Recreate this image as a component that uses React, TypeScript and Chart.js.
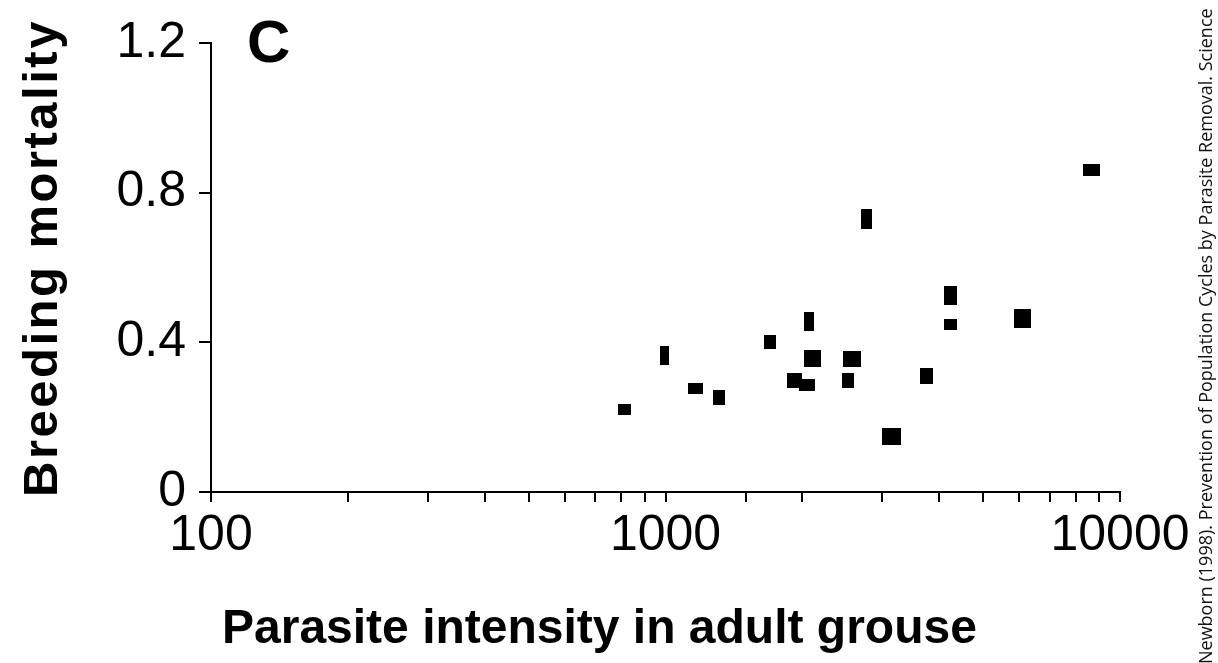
import React, { useEffect, useRef } from 'react';
import { Chart, registerables } from 'chart.js';

Chart.register(...registerables);

// ---- data ----
const intensity = [814, 997, 1167, 1311, 1698, 1927, 2048, 2069, 2111, 2520, 2572, 2775, 3150, 3760, 4227, 4227, 6087, 8675];
const mortality = [0.221, 0.364, 0.277, 0.253, 0.401, 0.298, 0.285, 0.457, 0.357, 0.298, 0.355, 0.729, 0.147, 0.309, 0.524, 0.447, 0.463, 0.86];

// marker shapes (style only): width / height of each filled rectangle in px
const markerW = [13, 9, 15, 12, 12, 15, 16, 10, 17, 12, 18, 11, 19, 13, 13, 13, 17, 17];
const markerH = [11, 19, 11, 15, 14, 15, 12, 19, 17, 15, 16, 20, 17, 16, 19, 11, 19, 12];

const xLabelledTicks = [100, 1000, 10000];
const yTickValues = [0, 0.4, 0.8, 1.2];

const xTitle = 'Parasite intensity in adult grouse';
const yTitle = 'Breeding mortality';
const panelLabel = 'C';
const citation = 'Newborn (1998). Prevention of Population Cycles by Parasite Removal. Science';

const FONT = '"Liberation Sans", Arial, Helvetica, sans-serif';

function makeMarker(w: number, h: number): HTMLCanvasElement {
  const c = document.createElement('canvas');
  c.width = w;
  c.height = h;
  const g = c.getContext('2d')!;
  g.fillStyle = '#000';
  g.fillRect(0, 0, w, h);
  return c;
}

const textPlugin = {
  id: 'textPlugin',
  afterDraw(chart: any) {
    const ctx = chart.ctx as CanvasRenderingContext2D;
    ctx.save();
    ctx.fillStyle = '#000';
    ctx.textBaseline = 'alphabetic';
    ctx.textAlign = 'left';

    // x title
    ctx.font = `bold 48px ${FONT}`;
    ctx.fillText(xTitle, 222, 643);

    // y title
    ctx.save();
    ctx.translate(57, 497);
    ctx.rotate(-Math.PI / 2);
    ctx.font = `bold 49px ${FONT}`;
    (ctx as any).letterSpacing = '2.5px';
    ctx.fillText(yTitle, 0, 0);
    ctx.restore();

    // panel label
    ctx.font = `bold 60px ${FONT}`;
    ctx.fillText(panelLabel, 247, 62);

    // citation
    ctx.save();
    ctx.translate(1212, 664);
    ctx.rotate(-Math.PI / 2);
    ctx.font = `18px "Open Sans", sans-serif`;
    ctx.fillStyle = '#111';
    ctx.fillText(citation, 0, 0);
    ctx.restore();

    ctx.restore();
  },
};

export default function App() {
  const ref = useRef<HTMLCanvasElement | null>(null);

  useEffect(() => {
    if (!ref.current) return;
    const points = intensity.map((x, i) => ({ x, y: mortality[i] }));
    const styles = markerW.map((w, i) => makeMarker(w, markerH[i]));

    const chart = new Chart(ref.current, {
      type: 'scatter',
      data: {
        datasets: [
          {
            data: points,
            pointStyle: styles as any,
            pointRadius: 9,
            backgroundColor: '#000',
            borderColor: '#000',
          },
        ],
      },
      options: {
        responsive: false,
        animation: false,
        events: [],
        layout: { padding: { top: 38, right: 98, left: 0, bottom: 0 } },
        plugins: {
          legend: { display: false },
          tooltip: { enabled: false },
          title: { display: false },
        },
        scales: {
          x: {
            type: 'logarithmic',
            min: 100,
            max: 10000,
            afterFit(scale: any) {
              scale.height = 171;
            },
            border: { display: true, color: '#000', width: 2 },
            grid: { display: true, drawOnChartArea: false, drawTicks: true, tickLength: 10, color: '#000', lineWidth: 2 },
            ticks: {
              autoSkip: false,
              maxRotation: 0,
              minRotation: 0,
              padding: 4,
              color: '#000',
              font: { family: FONT, size: 50, weight: 'normal' },
              callback: (v: any) => (xLabelledTicks.includes(Number(v)) ? String(v) : ''),
            },
          },
          y: {
            type: 'linear',
            min: 0,
            max: 1.2,
            afterFit(scale: any) {
              scale.width = 211;
            },
            afterBuildTicks(scale: any) {
              scale.ticks = yTickValues.map((v) => ({ value: v }));
            },
            border: { display: true, color: '#000', width: 2 },
            grid: { display: true, drawOnChartArea: false, drawTicks: true, tickLength: 12, color: '#000', lineWidth: 2 },
            ticks: {
              padding: 13,
              color: '#000',
              font: { family: FONT, size: 50, weight: 'normal' },
              callback: (v: any) => (Number(v) === 0 ? '0' : Number(v).toFixed(1)),
            },
          },
        },
      },
      plugins: [textPlugin],
    });

    return () => chart.destroy();
  }, []);

  return (
    <div style={{ position: 'absolute', left: 0, top: 0, width: 1218, height: 663, background: '#fff' }}>
      <canvas ref={ref} width={1218} height={663} style={{ display: 'block' }} />
    </div>
  );
}
